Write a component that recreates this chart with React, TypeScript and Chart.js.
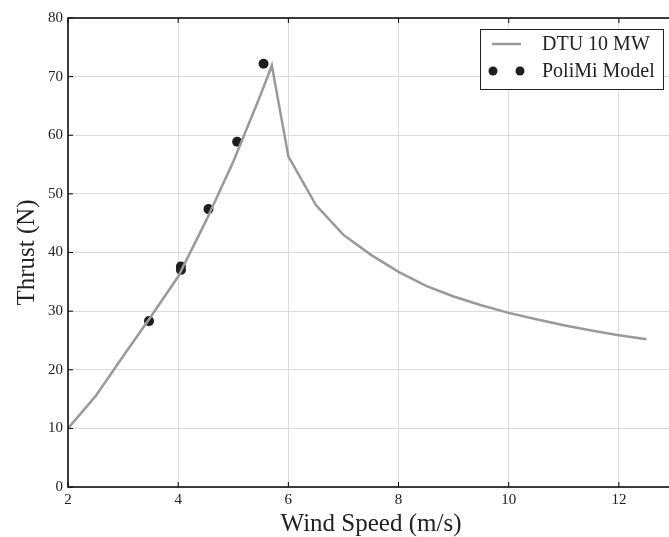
import React, { useEffect, useRef } from "react";
import { Chart, registerables } from "chart.js";

Chart.register(...registerables);

const dtuWind = [2, 2.5, 3, 3.5, 4, 4.5, 5, 5.5, 5.7, 6, 6.5, 7, 7.5, 8, 8.5, 9, 9.5, 10, 10.5, 11, 11.5, 12, 12.5];
const dtuThrust = [10, 15.5, 22.3, 29.0, 35.9, 45.3, 55.5, 67.0, 71.9, 56.4, 48.1, 43.0, 39.6, 36.7, 34.3, 32.5, 31.0, 29.7, 28.6, 27.6, 26.7, 25.9, 25.2];
const poliWind = [3.47, 4.05, 4.05, 4.55, 5.07, 5.55];
const poliThrust = [28.3, 37.6, 37.0, 47.4, 58.9, 72.2];
const xTicks = [2, 4, 6, 8, 10, 12];
const yTicks = [0, 10, 20, 30, 40, 50, 60, 70, 80];
const seriesLabels = ["DTU 10 MW", "PoliMi Model"];
const xTitle = "Wind Speed (m/s)";
const yTitle = "Thrust (N)";

const FONT = "'Liberation Serif', 'DejaVu Serif', serif";
const LINE_COLOR = "#9a9a9a";
const DOT_COLOR = "#1e1e1e";

const frame = {
  id: "frame",
  afterDraw(chart: any) {
    const { ctx, chartArea: a, scales } = chart;
    ctx.save();
    ctx.strokeStyle = "#000";
    ctx.lineWidth = 1;
    const L = 5;
    scales.x.ticks.forEach((t: any) => {
      const px = scales.x.getPixelForValue(t.value);
      ctx.beginPath();
      ctx.moveTo(px, a.bottom);
      ctx.lineTo(px, a.bottom - L);
      ctx.moveTo(px, a.top);
      ctx.lineTo(px, a.top + L);
      ctx.stroke();
    });
    scales.y.ticks.forEach((t: any) => {
      const py = scales.y.getPixelForValue(t.value);
      ctx.beginPath();
      ctx.moveTo(a.left, py);
      ctx.lineTo(a.left + L, py);
      ctx.moveTo(a.right, py);
      ctx.lineTo(a.right - L, py);
      ctx.stroke();
    });
    ctx.lineWidth = 1.6;
    ctx.strokeStyle = "#111";
    ctx.strokeRect(a.left, a.top, a.right - a.left, a.bottom - a.top);

    // legend
    const bx = 480, by = 29, bw = 183, bh = 60;
    ctx.fillStyle = "#fff";
    ctx.fillRect(bx, by, bw, bh);
    ctx.lineWidth = 1;
    ctx.strokeStyle = "#222";
    ctx.strokeRect(bx + 0.5, by + 0.5, bw, bh);
    ctx.strokeStyle = LINE_COLOR;
    ctx.lineWidth = 2.5;
    ctx.beginPath();
    ctx.moveTo(492, 44);
    ctx.lineTo(521, 44);
    ctx.stroke();
    ctx.fillStyle = DOT_COLOR;
    [493, 520].forEach((x) => {
      ctx.beginPath();
      ctx.arc(x, 71, 4.5, 0, Math.PI * 2);
      ctx.fill();
    });
    ctx.fillStyle = "#222";
    ctx.font = `20px ${FONT}`;
    ctx.textBaseline = "middle";
    ctx.textAlign = "left";
    ctx.fillText(seriesLabels[0], 542, 45);
    ctx.fillText(seriesLabels[1], 542, 72);
    ctx.restore();
  },
};

export default function App() {
  const ref = useRef<HTMLCanvasElement>(null);
  useEffect(() => {
    const chart = new Chart(ref.current!, {
      type: "scatter",
      data: {
        datasets: [
          {
            type: "line",
            label: seriesLabels[0],
            data: dtuWind.map((x, i) => ({ x, y: dtuThrust[i] })),
            borderColor: LINE_COLOR,
            borderWidth: 2.5,
            pointRadius: 0,
            tension: 0,
            fill: false,
          },
          {
            type: "scatter",
            label: seriesLabels[1],
            data: poliWind.map((x, i) => ({ x, y: poliThrust[i] })),
            backgroundColor: DOT_COLOR,
            borderColor: DOT_COLOR,
            pointRadius: 5,
            borderWidth: 0,
          },
        ],
      },
      options: {
        animation: false,
        responsive: false,
        layout: { padding: { top: 18, right: 16, left: 0, bottom: 0 } },
        plugins: { legend: { display: false }, tooltip: { enabled: false } },
        scales: {
          x: {
            type: "linear",
            min: 2,
            max: 13,
            afterBuildTicks: (s: any) => {
              s.ticks = xTicks.map((v) => ({ value: v }));
            },
            afterFit: (s: any) => {
              s.height = 50;
            },
            grid: { color: "#dcdcdc", lineWidth: 1, drawTicks: false },
            border: { display: false },
            ticks: { color: "#222", font: { family: FONT, size: 15 }, padding: 4 },
            title: {
              display: true,
              text: xTitle,
              color: "#222",
              font: { family: FONT, size: 25, lineHeight: 1 },
              padding: { top: 0, bottom: 0 },
            },
          },
          y: {
            type: "linear",
            min: 0,
            max: 80,
            afterBuildTicks: (s: any) => {
              s.ticks = yTicks.map((v) => ({ value: v }));
            },
            afterFit: (s: any) => {
              s.width = 68;
            },
            grid: { color: "#dcdcdc", lineWidth: 1, drawTicks: false },
            border: { display: false },
            ticks: { color: "#222", font: { family: FONT, size: 15 }, padding: 5 },
            title: {
              display: true,
              text: yTitle,
              color: "#222",
              font: { family: FONT, size: 25, lineHeight: 1 },
              padding: { top: 15, bottom: 0 },
            },
          },
        },
      },
      plugins: [frame],
    });
    return () => chart.destroy();
  }, []);
  return (
    <div style={{ position: "absolute", left: 0, top: 0, width: 669, height: 537, overflow: "hidden", background: "#fff" }}>
      <canvas ref={ref} width={690} height={537} style={{ display: "block" }} />
    </div>
  );
}
